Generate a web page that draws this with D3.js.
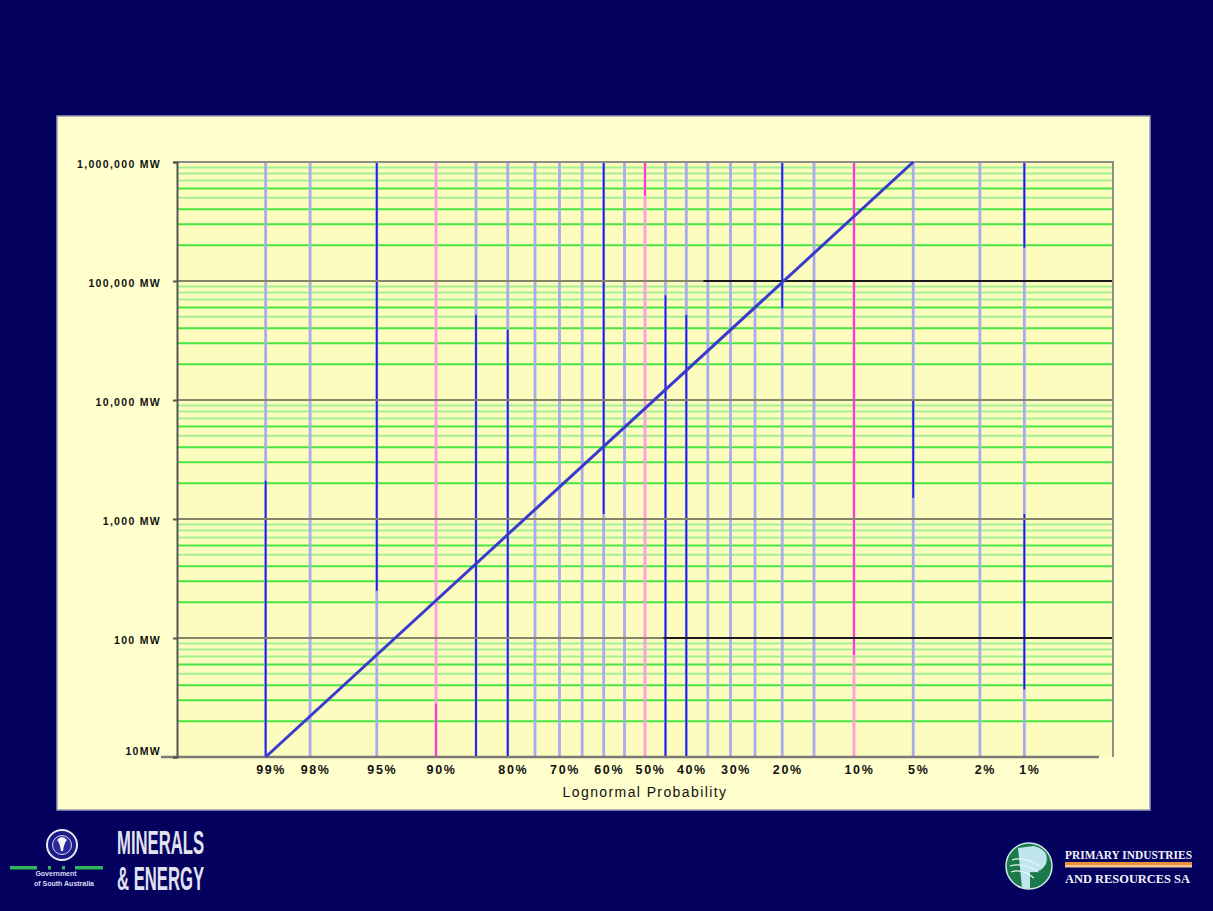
<!DOCTYPE html>
<html>
<head>
<meta charset="utf-8">
<script src="https://cdn.jsdelivr.net/npm/d3@7"></script>
<style>
  body { margin: 0; background: #03005e; }
  svg { display: block; }
  .ylab text { font-family: "Liberation Sans", Arial, sans-serif; font-size: 10.5px; font-weight: bold; letter-spacing: 1.3px; fill: #111; }
  .xlab text { font-family: "Liberation Sans", Arial, sans-serif; font-size: 12.5px; font-weight: bold; letter-spacing: 1.6px; fill: #111; }
</style>
</head>
<body>
<svg id="chart" width="1213" height="911"></svg>
<script>
// probability paper, values
var probLines = [99, 98, 95, 90, 85, 80, 75, 70, 65, 60, 55, 50, 45, 40, 35, 30, 25, 20, 15, 10, 5, 2, 1];
var pinkLines = [90, 50, 10];
var xTicks = [99, 98, 95, 90, 80, 70, 60, 50, 40, 30, 20, 10, 5, 2, 1];
var yTicks = [10, 100, 1000, 10000, 100000, 1000000];
var yLabels = ["10MW", "100 MW", "1,000 MW", "10,000 MW", "100,000 MW", "1,000,000 MW"];
var minorMults = [2, 3, 4, 5, 6, 7, 8, 9];
var brightMults = [2, 3, 4, 6];

// the screenshot shows some grid lines half dark / half pale
var darkRuns = [
  [99, 10, 2100], [95, 250, 1e6], [85, 10, 52000], [80, 10, 39000],
  [60, 1100, 1e6], [45, 10, 76000], [40, 10, 52000], [20, 59000, 1e6],
  [5, 1500, 10000], [1, 190000, 1e6], [1, 37, 1100]
];
var pinkRuns = [[90, 10, 28], [50, 520000, 1e6], [10, 72, 1e6]];
var blackRuns = [[100000, 36, 0.2], [100, 45.5, 0.2]];

// lognormal line: [exceedance %, MW]
var trend = [[99, 10], [5, 1000000]];

function invNorm(p) {
  var a = [-3.969683028665376e+01, 2.209460984245205e+02, -2.759285104469687e+02, 1.383577518672690e+02, -3.066479806614716e+01, 2.506628277459239e+00];
  var b = [-5.447609879822406e+01, 1.615858368580409e+02, -1.556989798598866e+02, 6.680131188771972e+01, -1.328068155288572e+01];
  var c = [-7.784894002430293e-03, -3.223964580411365e-01, -2.400758277161838e+00, -2.549732539343734e+00, 4.374664141464968e+00, 2.938163982698783e+00];
  var d = [7.784695709041462e-03, 3.224671290700398e-01, 2.445134137142996e+00, 3.754408661907416e+00];
  var plow = 0.02425, q, r;
  if (p < plow) {
    q = Math.sqrt(-2 * Math.log(p));
    return (((((c[0]*q+c[1])*q+c[2])*q+c[3])*q+c[4])*q+c[5]) / ((((d[0]*q+d[1])*q+d[2])*q+d[3])*q+1);
  }
  if (p > 1 - plow) {
    q = Math.sqrt(-2 * Math.log(1 - p));
    return -(((((c[0]*q+c[1])*q+c[2])*q+c[3])*q+c[4])*q+c[5]) / ((((d[0]*q+d[1])*q+d[2])*q+d[3])*q+1);
  }
  q = p - 0.5; r = q * q;
  return (((((a[0]*r+a[1])*r+a[2])*r+a[3])*r+a[4])*r+a[5])*q / (((((b[0]*r+b[1])*r+b[2])*r+b[3])*r+b[4])*r+1);
}
function zOf(p) { return invNorm(1 - p / 100); }

var svg = d3.select("#chart");
var plotLeft = 177, plotRight = 1113, plotTop = 162, plotBottom = 757;

var x = d3.scaleLinear().domain([-2.87, 2.87]).range([plotLeft, plotRight]);
var y = d3.scaleLog().domain([10, 1000000]).range([plotBottom, plotTop]);
function xp(p) { return x(zOf(p)); }

// slide + panel
svg.append("rect").attr("width", 1213).attr("height", 911).attr("fill", "#03005e");
svg.append("rect")
  .attr("x", 57).attr("y", 116).attr("width", 1093).attr("height", 694)
  .attr("fill", "#ffffcd").attr("stroke", "#9a98b8").attr("stroke-width", 1.5);
svg.append("rect")
  .attr("x", plotLeft).attr("y", plotTop)
  .attr("width", plotRight - plotLeft).attr("height", plotBottom - plotTop)
  .attr("fill", "#fcfcbf");

var grid = svg.append("g");

// minor horizontal lines
var minors = [];
yTicks.slice(0, -1).forEach(function (dec) {
  minorMults.forEach(function (m) { minors.push({ v: dec * m, bright: brightMults.indexOf(m) >= 0 }); });
});
grid.selectAll("line.minor").data(minors).enter().append("line")
  .attr("x1", plotLeft).attr("x2", plotRight)
  .attr("y1", function (d) { return y(d.v); })
  .attr("y2", function (d) { return y(d.v); })
  .attr("stroke", function (d) { return d.bright ? "#46e63e" : "#a4f090"; })
  .attr("stroke-width", 2);

// vertical probability lines
grid.selectAll("line.prob").data(probLines).enter().append("line")
  .attr("x1", xp).attr("x2", xp)
  .attr("y1", plotTop).attr("y2", plotBottom)
  .attr("stroke", function (d) { return pinkLines.indexOf(d) >= 0 ? "#ff9ce0" : "#aaaaee"; })
  .attr("stroke-width", 2.8);

grid.selectAll("line.dark").data(darkRuns).enter().append("line")
  .attr("x1", function (d) { return xp(d[0]); })
  .attr("x2", function (d) { return xp(d[0]); })
  .attr("y1", function (d) { return y(d[1]); })
  .attr("y2", function (d) { return y(d[2]); })
  .attr("stroke", "#1e1ee6").attr("stroke-width", 1.8);

grid.selectAll("line.pink").data(pinkRuns).enter().append("line")
  .attr("x1", function (d) { return xp(d[0]); })
  .attr("x2", function (d) { return xp(d[0]); })
  .attr("y1", function (d) { return y(d[1]); })
  .attr("y2", function (d) { return y(d[2]); })
  .attr("stroke", "#ff3ad0").attr("stroke-width", 2);

// decade lines
grid.selectAll("line.decade").data(yTicks.slice(1, -1)).enter().append("line")
  .attr("x1", plotLeft).attr("x2", plotRight)
  .attr("y1", y).attr("y2", y)
  .attr("stroke", "#85856a").attr("stroke-width", 2);

grid.selectAll("line.black").data(blackRuns).enter().append("line")
  .attr("x1", function (d) { return xp(d[1]); })
  .attr("x2", function (d) { return Math.min(plotRight, xp(d[2])); })
  .attr("y1", function (d) { return y(d[0]); })
  .attr("y2", function (d) { return y(d[0]); })
  .attr("stroke", "#1a1a1a").attr("stroke-width", 1.8);

// frame
svg.append("path")
  .attr("d", "M" + plotLeft + "," + plotTop + "H" + plotRight + "V" + plotBottom)
  .attr("fill", "none").attr("stroke", "#8c8c88").attr("stroke-width", 2);
svg.append("line")
  .attr("x1", plotLeft - 16).attr("x2", plotRight - 14)
  .attr("y1", plotBottom).attr("y2", plotBottom)
  .attr("stroke", "#7a7a74").attr("stroke-width", 2.5);

// trend line
svg.append("path")
  .datum(trend)
  .attr("d", d3.line().x(function (d) { return xp(d[0]); }).y(function (d) { return y(d[1]); }))
  .attr("fill", "none").attr("stroke", "#3a3acc").attr("stroke-width", 3);

// y axis
var yAxis = svg.append("g")
  .attr("class", "ylab")
  .attr("transform", "translate(" + plotLeft + ",0)")
  .call(d3.axisLeft(y).tickValues(yTicks)
    .tickFormat(function (d, i) { return yLabels[i]; })
    .tickSize(4).tickPadding(12));
yAxis.select(".domain").attr("stroke", "#555").attr("stroke-width", 2);
yAxis.selectAll(".tick line").attr("stroke", "#555").attr("stroke-width", 2);
yAxis.selectAll(".tick text")
  .attr("dy", function (d, i) { return i === 0 ? "-0.2em" : "0.55em"; });

// x axis labels
var xAxis = svg.append("g")
  .attr("class", "xlab")
  .attr("transform", "translate(5," + plotBottom + ")")
  .call(d3.axisBottom(x).tickValues(xTicks.map(zOf))
    .tickFormat(function (d, i) { return xTicks[i] + "%"; })
    .tickSize(0).tickPadding(8));
xAxis.select(".domain").remove();

svg.append("text")
  .attr("x", 645).attr("y", 797)
  .attr("text-anchor", "middle")
  .attr("font-family", "Liberation Sans, Arial, sans-serif")
  .attr("font-size", 14).attr("letter-spacing", 1.4)
  .attr("fill", "#111")
  .text("Lognormal Probability");

// left logo
var gov = svg.append("g");
gov.append("circle").attr("cx", 62).attr("cy", 845).attr("r", 15)
  .attr("fill", "#1b1b86").attr("stroke", "#e8e8f4").attr("stroke-width", 2);
gov.append("circle").attr("cx", 62).attr("cy", 845).attr("r", 9.5)
  .attr("fill", "#2a2a9a").attr("stroke", "#d8d8ee").attr("stroke-width", 1);
gov.append("path")
  .attr("d", "M57,840 Q62,834 67,840 Q64,843 63,851 L61,851 Q60,843 57,840 Z")
  .attr("fill", "#f4f4fa");
[[10, 27], [48, 3], [62, 3], [75, 28]].forEach(function (s) {
  gov.append("rect").attr("x", s[0]).attr("y", 866).attr("width", s[1]).attr("height", 3.5)
    .attr("fill", "#2fb85a");
});
gov.append("text").attr("x", 56).attr("y", 876).attr("text-anchor", "middle")
  .attr("font-family", "Liberation Sans, Arial, sans-serif").attr("font-size", 7)
  .attr("font-weight", "bold").attr("fill", "#dcdcf0").text("Government");
gov.append("text").attr("x", 64).attr("y", 886).attr("text-anchor", "middle")
  .attr("font-family", "Liberation Sans, Arial, sans-serif").attr("font-size", 7)
  .attr("font-weight", "bold").attr("fill", "#dcdcf0").text("of South Australia");
[["MINERALS", 854], ["& ENERGY", 890]].forEach(function (t) {
  gov.append("text").attr("x", 117).attr("y", t[1])
    .attr("font-family", "Liberation Sans Narrow, Liberation Sans, Arial, sans-serif")
    .attr("font-size", 33).attr("font-weight", "bold").attr("fill", "#e2e2f0")
    .attr("textLength", 87).attr("lengthAdjust", "spacingAndGlyphs")
    .text(t[0]);
});

// right logo
var pir = svg.append("g");
pir.append("circle").attr("cx", 1029).attr("cy", 866).attr("r", 23)
  .attr("fill", "#1b7a4c").attr("stroke", "#cfe8e0").attr("stroke-width", 1.5);
pir.append("path")
  .attr("d", "M1018,848 L1034,846 Q1050,850 1046,864 Q1040,874 1030,872 L1030,889 L1022,888 Z")
  .attr("fill", "#bfe6ee");
pir.append("path")
  .attr("d", "M1012,860 Q1024,856 1040,866 M1010,866 Q1024,862 1038,872 M1011,872 Q1022,868 1034,878")
  .attr("fill", "none").attr("stroke", "#e8f6f6").attr("stroke-width", 1.2);
pir.append("rect").attr("x", 1065).attr("y", 862).attr("width", 127).attr("height", 3).attr("fill", "#e8903a");
pir.append("rect").attr("x", 1065).attr("y", 865).attr("width", 127).attr("height", 2.5).attr("fill", "#f4c890");
[["PRIMARY INDUSTRIES", 859], ["AND RESOURCES SA", 883]].forEach(function (t, i) {
  pir.append("text").attr("x", 1065).attr("y", t[1])
    .attr("font-family", "Liberation Serif, Times New Roman, serif")
    .attr("font-weight", "bold").attr("font-size", 13).attr("fill", "#f2f2fa")
    .attr("textLength", i === 0 ? 127 : 125).attr("lengthAdjust", "spacingAndGlyphs")
    .text(t[0]);
});
</script>
</body>
</html>
